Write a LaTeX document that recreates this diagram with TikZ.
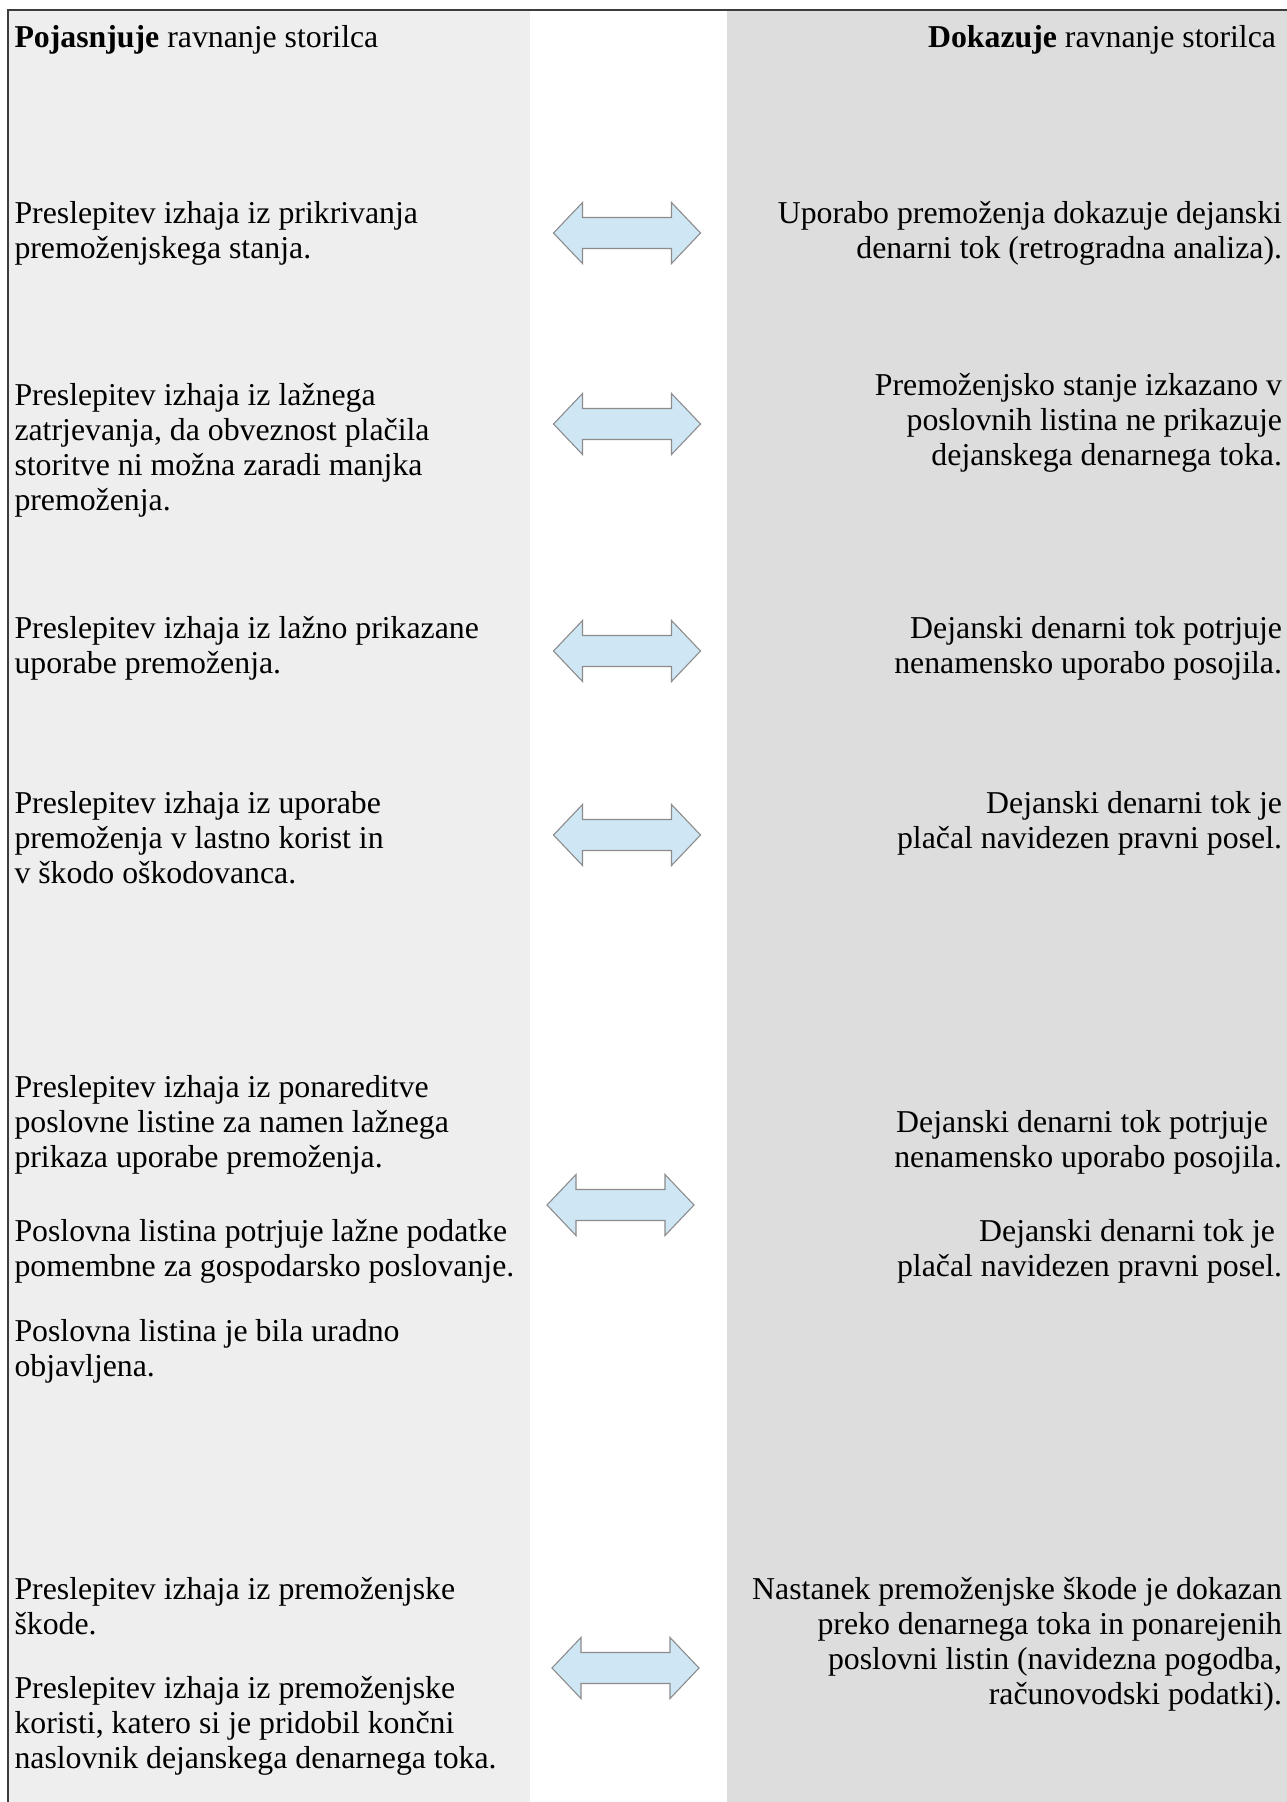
\documentclass[tikz,border=0pt]{standalone}
\usepackage{fontspec}
\setmainfont{Liberation Serif}
\newcommand\mystrut{\rule{0pt}{30pt}}
\definecolor{leftbg}{HTML}{EEEEEE}
\definecolor{rightbg}{HTML}{DDDDDD}
\definecolor{arrfill}{HTML}{CFE7F5}
\definecolor{arrline}{HTML}{8C8C8C}
\definecolor{frameline}{HTML}{3C3C3C}
\tikzset{
  txt/.style={font=\fontsize{31.8}{35}\selectfont, inner sep=0pt, outer sep=0pt, text=black},
  lt/.style={txt, anchor=north west, align=left},
  rt/.style={txt, anchor=north east, align=right},
  arrowshape/.style={fill=arrfill, draw=arrline, line width=1.1pt, line join=miter},
  frame/.style={draw=frameline, line width=1.3pt},
  dblarrow/.pic={
    \path[arrowshape] (-73.5,0) -- (-44.5,30.5) -- (-44.5,15.5) -- (44.5,15.5) -- (44.5,30.5)
      -- (73.5,0) -- (44.5,-30.5) -- (44.5,-15.5) -- (-44.5,-15.5) -- (-44.5,-30.5) -- cycle;
  }
}
\begin{document}
\begin{tikzpicture}[x=1pt,y=-1pt]
\useasboundingbox (0,0) rectangle (1287,1802);
% panels
\fill[white] (0,0) rectangle (1287,1802);
\fill[leftbg] (8,10) rectangle (530,1802);
\fill[rightbg] (727,10) rectangle (1287,1802);
\draw[frame] (8,1802) -- (8,10) -- (1287,10);

% headers (first baseline = node y + 30)
\node[lt] (hdrL) at (14.5,17) {\mystrut\textbf{Pojasnjuje} ravnanje storilca};
\node[rt] (hdrR) at (1276,17) {\mystrut\textbf{Dokazuje} ravnanje storilca};

% block 1
\node[lt] (b1L) at (14.5,193) {\mystrut Preslepitev izhaja iz prikrivanja\\premoženjskega stanja.};
\node[rt] (b1R) at (1282,193) {\mystrut Uporabo premoženja dokazuje dejanski\\denarni tok (retrogradna analiza).};
\pic (arrA) at (627,233) {dblarrow};

% block 2
\node[lt] (b2L) at (14.5,375) {\mystrut Preslepitev izhaja iz lažnega\\zatrjevanja, da obveznost plačila\\storitve ni možna zaradi manjka\\premoženja.};
\node[rt] (b2R) at (1282,365) {\mystrut Premoženjsko stanje izkazano v\\poslovnih listina ne prikazuje\\dejanskega denarnega toka.};
\pic (arrB) at (627,424) {dblarrow};

% block 3
\node[lt] (b3L) at (14.5,608.5) {\mystrut Preslepitev izhaja iz lažno prikazane\\uporabe premoženja.};
\node[rt] (b3R) at (1282,608.5) {\mystrut Dejanski denarni tok potrjuje\\nenamensko uporabo posojila.};
\pic (arrC) at (627,651) {dblarrow};

% block 4
\node[lt] (b4L) at (14.5,783) {\mystrut Preslepitev izhaja iz uporabe\\premoženja v lastno korist in\\v škodo oškodovanca.};
\node[rt] (b4R) at (1282,783) {\mystrut Dejanski denarni tok je\\plačal navidezen pravni posel.};
\pic (arrD) at (627,835) {dblarrow};

% block 5
\node[lt] (b5La) at (14.5,1067.5) {\mystrut Preslepitev izhaja iz ponareditve\\poslovne listine za namen lažnega\\prikaza uporabe premoženja.};
\node[lt] (b5Lb) at (14.5,1211) {\mystrut Poslovna listina potrjuje lažne podatke\\pomembne za gospodarsko poslovanje.};
\node[lt] (b5Lc) at (14.5,1311) {\mystrut Poslovna listina je bila uradno\\objavljena.};
\node[rt] (b5Ra) at (1282,1102.5) {\mystrut Dejanski denarni tok potrjuje\makebox[14pt]{}\\nenamensko uporabo posojila.};
\node[rt] (b5Rb) at (1282,1211) {\mystrut Dejanski denarni tok je\makebox[7pt]{}\\plačal navidezen pravni posel.};
\pic (arrE) at (620.5,1205) {dblarrow};

% block 6
\node[lt] (b6La) at (14.5,1569.5) {\mystrut Preslepitev izhaja iz premoženjske\\škode.};
\node[lt] (b6Lb) at (14.5,1668.5) {\mystrut Preslepitev izhaja iz premoženjske\\koristi, katero si je pridobil končni\\naslovnik dejanskega denarnega toka.};
\node[rt] (b6R) at (1282,1569.5) {\mystrut Nastanek premoženjske škode je dokazan\\preko denarnega toka in ponarejenih\\poslovni listin (navidezna pogodba,\\računovodski podatki).};
\pic (arrF) at (625.5,1668) {dblarrow};
\end{tikzpicture}
\end{document}
